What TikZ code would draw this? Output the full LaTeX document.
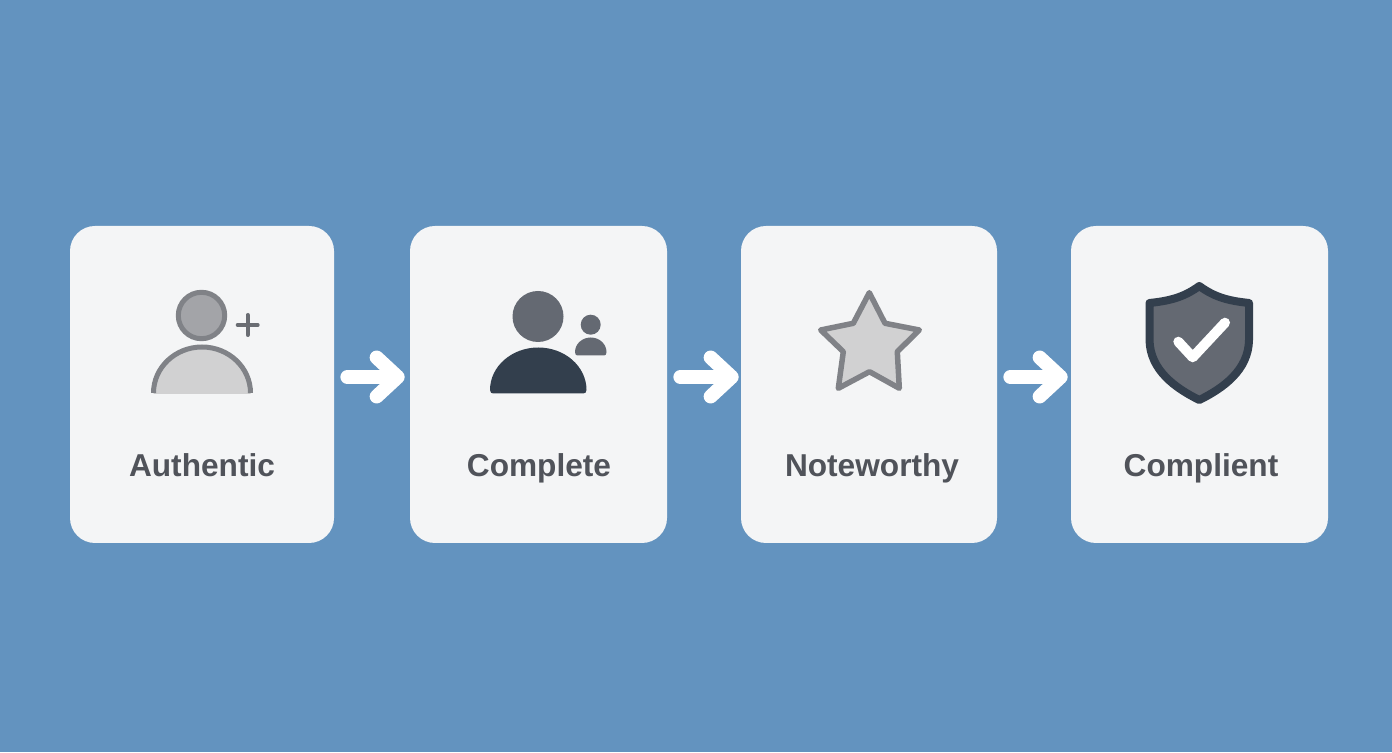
\documentclass[tikz,border=0pt]{standalone}
\usepackage{fontspec}
\setmainfont{Liberation Sans}
\usetikzlibrary{arrows.meta}
\definecolor{bgblue}{HTML}{6393BF}
\definecolor{cardgray}{HTML}{F4F5F6}
\definecolor{textgray}{HTML}{50535A}
\definecolor{linegray}{HTML}{808287}
\definecolor{softgray}{HTML}{D1D1D2}
\definecolor{headgray}{HTML}{A3A4A8}
\definecolor{slategray}{HTML}{646972}
\definecolor{darkslate}{HTML}{333F4D}
\tikzset{
  card/.style={fill=cardgray, rounded corners=0.5cm, minimum height=6.34cm, inner sep=0pt},
  cardlabel/.style={text=textgray, font=\fontsize{18}{22}\selectfont\bfseries, anchor=base},
  flow/.style={white, line width=0.28cm, line cap=round, -{Straight Barb[length=0.42cm, width=0.78cm, round]}},
}
\begin{document}
\begin{tikzpicture}
     \fill [bgblue](0,0) rectangle(27.84,15.04);
     % cards
     \node[card, minimum width=5.28cm] (authentic) at (4.04,7.35) {};
     \node[card, minimum width=5.14cm] (complete) at (10.77,7.35) {};
     \node[card, minimum width=5.12cm] (noteworthy) at (17.38,7.35) {};
     \node[card, minimum width=5.14cm] (compliant) at (23.99,7.35) {};
     \node[cardlabel] (authenticlabel) at (4.04,5.51) {Authentic};
     \node[cardlabel] (completelabel) at (10.78,5.51) {Complete};
     \node[cardlabel] (noteworthylabel) at (17.44,5.51) {Noteworthy};
     \node[cardlabel] (compliantlabel) at (24.02,5.51) {Complient};
     % arrows
     \draw[flow, shorten <=0.26cm, shorten >=0.1cm] ([yshift=0.15cm]authentic.east) -- ([yshift=0.15cm]complete.west);
     \draw[flow, shorten <=0.26cm, shorten >=0.04cm] ([yshift=0.15cm]complete.east) -- ([yshift=0.15cm]noteworthy.west);
     \draw[flow, shorten <=0.26cm, shorten >=0.06cm] ([yshift=0.15cm]noteworthy.east) -- ([yshift=0.15cm]compliant.west);
     % person with plus
     \draw[linegray, fill=headgray, line width=0.1cm] (4.03,8.73) circle (0.464);
     \fill[softgray] (3.07,7.16) -- (3.07,7.18) arc[start angle=180, end angle=0, x radius=0.97, y radius=0.92] -- (5.01,7.16) -- cycle;
     \draw[linegray, line width=0.1cm] (3.07,7.18) arc[start angle=180, end angle=0, x radius=0.97, y radius=0.92];
     \draw[textgray!85, line width=0.08cm, line cap=round] (4.754,8.54) -- (5.154,8.54);
     \draw[textgray!85, line width=0.08cm, line cap=round] (4.954,8.34) -- (4.954,8.74);
     % person with small person
     \fill[slategray] (10.76,8.71) circle (0.51);
     \fill[darkslate] (9.80,7.24) arc[start angle=180, end angle=0, x radius=0.965, y radius=0.85]
          .. controls (11.73,7.19) and (11.7,7.17) .. (11.66,7.17) -- (9.87,7.17)
          .. controls (9.83,7.17) and (9.80,7.19) .. (9.80,7.24) -- cycle;
     \fill[slategray] (11.814,8.546) circle (0.2);
     \fill[slategray] (11.50,8.0) arc[start angle=180, end angle=0, x radius=0.315, y radius=0.29]
          .. controls (12.13,7.95) and (12.11,7.93) .. (12.08,7.93) -- (11.55,7.93)
          .. controls (11.52,7.93) and (11.50,7.95) .. (11.50,8.0) -- cycle;
     % star
     \draw[linegray, fill=softgray, line width=0.11cm, line join=round] (17.386,9.186) -- (17.70,8.574) -- (18.386,8.44) -- (17.946,8.006) -- (17.986,7.274)
          -- (17.39,7.606) -- (16.766,7.274) -- (16.866,8.006) -- (16.414,8.44) -- (17.066,8.574) -- cycle;
     % shield
     \draw[darkslate, fill=slategray, line width=0.16cm, line join=round] (23.986,9.32) .. controls (23.66,9.08) and (23.36,9.02) .. (22.99,8.98)
          -- (22.99,8.24) .. controls (23.0,7.64) and (23.5,7.28) .. (23.986,7.04)
          .. controls (24.47,7.28) and (24.97,7.64) .. (24.98,8.24) -- (24.98,8.98)
          .. controls (24.61,9.02) and (24.31,9.08) .. (23.986,9.32) -- cycle;
     \draw[white, line width=0.2cm, line cap=round, line join=round] (23.566,8.206) -- (23.854,7.894) -- (24.5,8.586);
\end{tikzpicture}
\end{document}
